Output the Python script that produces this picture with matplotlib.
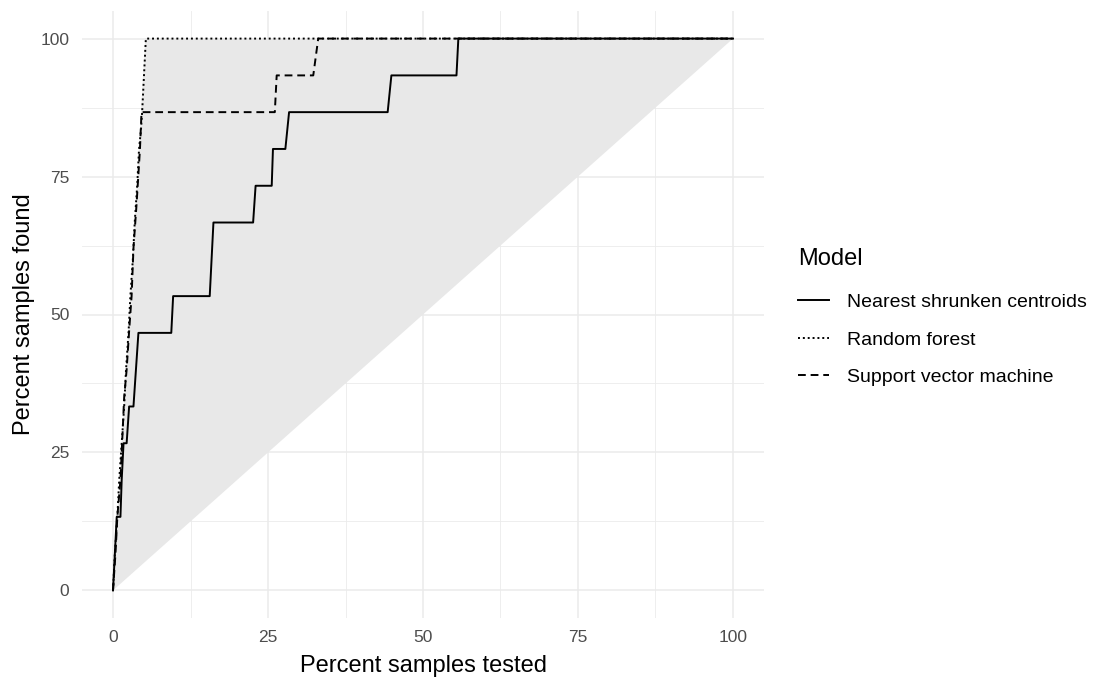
import matplotlib
matplotlib.use("Agg")
import matplotlib.pyplot as plt
from matplotlib.lines import Line2D

plt.rcParams['font.family'] = ['Liberation Sans', 'DejaVu Sans']

# Data (percent samples tested vs percent samples found)
nsc_x = [0, 0.3, 0.6, 1.2, 1.4, 1.7, 2.2, 2.4, 2.6, 3.3, 3.7, 4.1, 9.4, 9.7,
         15.6, 16.2, 22.6, 23.0, 25.6, 25.8, 27.8, 28.4, 44.3, 44.9, 55.4, 55.7, 100]
nsc_y = [0, 6.67, 13.33, 13.33, 20.0, 26.67, 26.67, 30.0, 33.33, 33.33, 40.0, 46.67,
         46.67, 53.33, 53.33, 66.67, 66.67, 73.33, 73.33, 80.0, 80.0, 86.67, 86.67,
         93.33, 93.33, 100, 100]

rf_x = [0, 0.3, 0.7, 1.0, 1.4, 1.8, 2.1, 2.5, 2.8, 3.2, 3.5, 3.9, 4.2, 4.5, 4.7, 5.0, 5.3, 100]
rf_y = [0, 6.67, 13.33, 20.0, 26.67, 33.33, 40.0, 46.67, 53.33, 60.0, 66.67, 73.33,
        80.0, 83.33, 86.67, 93.33, 100, 100]

svm_x = [0, 0.4, 0.7, 1.2, 1.8, 2.2, 2.6, 3.0, 3.3, 3.8, 4.35, 4.6, 26.1, 26.4, 32.3, 33.1, 100]
svm_y = [0, 6.67, 13.33, 20.0, 35.0, 40.0, 47.0, 53.33, 62.0, 70.0, 80.0, 86.67,
         86.67, 93.33, 93.33, 100, 100]

perfect_x = [0, 5.2, 100]
perfect_y = [0, 100, 100]

model_names = ["Nearest shrunken centroids", "Random forest", "Support vector machine"]

fig = plt.figure(figsize=(10.97, 6.78), dpi=100)
ax = fig.add_axes([82/1097, 1 - 618/678, (764-82)/1097, (618-11)/678])

ax.fill(perfect_x + [0], perfect_y + [0], color="#E8E8E8", lw=0, zorder=1)

lw = 1.4
ax.plot(nsc_x, nsc_y, color="black", lw=lw, ls="-", zorder=3)
ax.plot(rf_x, rf_y, color="black", lw=lw, ls=(0, (1, 1.5)), zorder=3)
ax.plot(svm_x, svm_y, color="black", lw=lw, ls=(0, (4, 2.5)), zorder=3)

ax.set_xlim(-5, 105)
ax.set_ylim(-5, 105)
ticks = [0, 25, 50, 75, 100]
ax.set_xticks(ticks)
ax.set_yticks(ticks)
ax.set_xticks([12.5, 37.5, 62.5, 87.5], minor=True)
ax.set_yticks([12.5, 37.5, 62.5, 87.5], minor=True)
ax.grid(True, which="major", color="#EBEBEB", lw=1.1, zorder=0)
ax.grid(True, which="minor", color="#EBEBEB", lw=0.6, zorder=0)
ax.set_axisbelow(True)
for s in ax.spines.values():
    s.set_visible(False)
ax.tick_params(which="both", length=0, labelsize=12.5, labelcolor="#4D4D4D", pad=9)

ax.set_xlabel("Percent samples tested", fontsize=17, color="black", labelpad=7)
ax.set_ylabel("Percent samples found", fontsize=17, color="black", labelpad=4)

handles = [Line2D([], [], color="black", lw=lw, ls="-"),
           Line2D([], [], color="black", lw=lw, ls=(0, (1, 1.5))),
           Line2D([], [], color="black", lw=lw, ls=(0, (4, 2.5)))]
leg = fig.legend(handles, model_names, loc="upper left",
                 bbox_to_anchor=(798/1097, 1 - 248/678), frameon=False,
                 title="Model", fontsize=14, title_fontsize=17,
                 handlelength=1.6, handletextpad=0.9, labelspacing=1.02,
                 borderaxespad=0, borderpad=0)
leg._legend_box.align = "left"
leg._legend_box.sep = 17

fig.savefig("out.png", dpi=100)
